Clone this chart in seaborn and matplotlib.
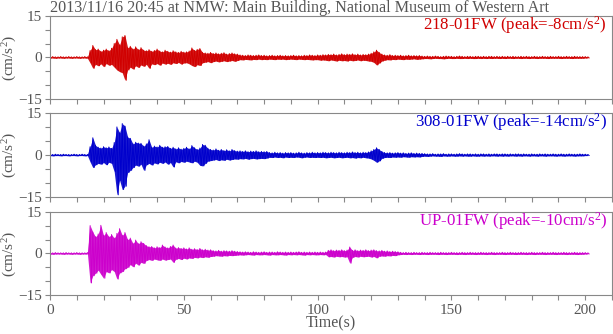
import numpy as np
import pandas as pd
import matplotlib
matplotlib.use("Agg")
import matplotlib.pyplot as plt
import seaborn as sns
from matplotlib.ticker import MultipleLocator

# ---------------- data (envelope peaks read per second, cm/s^2) ----------------
title = "2013/11/16 20:45 at NMW: Main Building, National Museum of Western Art"
channel_labels = ["218-01FW", "308-01FW", "UP-01FW"]
channel_peaks = [-8, -14, -10]
sample_interval = 1.0  # seconds between envelope readings

red_upper = [
    0.2, 0.3, 0.2, 0.2, 0.3, 0.2, 0.2, 0.3, 0.2, 0.2,
    0.3, 0.2, 0.2, 0.3, 0.2, 2.5, 4.3, 2.8, 3.0, 2.2,
    2.6, 3.0, 2.4, 3.3, 5.0, 6.5, 4.5, 7.4, 7.9, 3.5,
    4.0, 3.0, 3.8, 2.8, 3.5, 2.6, 2.4, 2.8, 2.2, 2.5,
    3.0, 2.3, 2.0, 2.6, 2.2, 1.9, 2.4, 2.0, 1.8, 2.2,
    1.9, 2.0, 2.3, 3.4, 2.5, 2.9, 3.2, 1.8, 1.6, 1.5,
    1.8, 1.4, 1.6, 1.3, 1.5, 1.7, 1.2, 1.4, 1.6, 1.3,
    1.2, 0.9, 0.8, 0.7, 0.9, 0.8, 0.7, 0.8, 0.9, 0.7,
    0.8, 0.6, 0.7, 0.8, 0.6, 0.7, 0.8, 0.6, 0.7, 0.6,
    0.7, 0.8, 0.6, 0.7, 0.6, 0.8, 0.7, 0.9, 0.8, 0.7,
    0.9, 0.8, 1.0, 0.9, 1.1, 1.0, 1.2, 0.9, 1.1, 1.3,
    1.0, 1.2, 1.1, 1.3, 1.0, 1.2, 0.9, 1.1, 1.0, 1.2,
    1.5, 2.0, 2.6, 1.8, 1.2, 0.9, 0.8, 1.0, 0.7, 0.8,
    0.7, 0.8, 0.6, 0.7, 0.8, 0.6, 0.7, 0.6, 0.7, 0.5,
    0.4, 0.5, 0.4, 0.4, 0.5, 0.4, 0.3, 0.4, 0.5, 0.4,
    0.4, 0.3, 0.4, 0.5, 0.4, 0.3, 0.4, 0.4, 0.3, 0.4,
    0.4, 0.3, 0.4, 0.3, 0.4, 0.4, 0.3, 0.4, 0.3, 0.4,
    0.3, 0.4, 0.3, 0.4, 0.3, 0.3, 0.4, 0.3, 0.4, 0.3,
    0.3, 0.4, 0.3, 0.3, 0.4, 0.3, 0.3, 0.4, 0.3, 0.3,
    0.4, 0.3, 0.3, 0.4, 0.3, 0.3, 0.4, 0.3, 0.3, 0.3,
    0.3, 0.2,
]
red_lower = [
    -0.2, -0.2, -0.3, -0.2, -0.2, -0.3, -0.2, -0.2, -0.3, -0.2,
    -0.2, -0.3, -0.2, -0.2, -0.3, -2.0, -3.9, -2.5, -3.0, -2.3,
    -3.3, -2.2, -2.8, -2.5, -3.5, -4.5, -5.1, -5.5, -8.2, -4.5,
    -3.5, -4.2, -3.0, -3.6, -2.7, -3.2, -2.5, -3.9, -2.3, -2.6,
    -2.2, -2.8, -2.0, -2.4, -2.1, -2.5, -1.9, -2.2, -1.8, -2.4,
    -2.0, -1.9, -2.3, -2.9, -3.3, -2.6, -2.9, -1.9, -1.7, -1.5,
    -1.9, -1.5, -1.3, -1.6, -1.4, -1.2, -1.5, -1.3, -1.1, -1.4,
    -1.1, -0.8, -0.9, -0.7, -0.8, -0.9, -0.7, -0.8, -0.6, -0.8,
    -0.7, -0.8, -0.6, -0.7, -0.8, -0.6, -0.7, -0.6, -0.8, -0.7,
    -0.6, -0.7, -0.8, -0.6, -0.7, -0.8, -0.7, -0.8, -0.9, -0.8,
    -0.8, -1.0, -0.9, -1.0, -1.2, -0.9, -1.1, -1.3, -1.0, -1.2,
    -1.1, -1.3, -1.0, -1.2, -1.1, -0.9, -1.2, -1.0, -1.1, -1.3,
    -1.4, -1.8, -2.7, -2.0, -1.3, -1.0, -0.8, -0.9, -0.7, -0.8,
    -0.6, -0.7, -0.8, -0.6, -0.7, -0.6, -0.5, -0.7, -0.6, -0.5,
    -0.4, -0.4, -0.5, -0.4, -0.3, -0.4, -0.4, -0.5, -0.4, -0.3,
    -0.4, -0.4, -0.3, -0.4, -0.4, -0.3, -0.4, -0.3, -0.4, -0.4,
    -0.3, -0.4, -0.3, -0.4, -0.3, -0.4, -0.3, -0.3, -0.4, -0.3,
    -0.4, -0.3, -0.3, -0.4, -0.3, -0.3, -0.4, -0.3, -0.3, -0.4,
    -0.3, -0.3, -0.4, -0.3, -0.3, -0.3, -0.4, -0.3, -0.3, -0.3,
    -0.3, -0.4, -0.3, -0.3, -0.3, -0.4, -0.3, -0.3, -0.3, -0.3,
    -0.2, -0.2,
]
blue_upper = [
    0.2, 0.2, 0.3, 0.2, 0.2, 0.3, 0.2, 0.2, 0.2, 0.3,
    0.2, 0.2, 0.3, 0.2, 0.2, 3.0, 6.2, 3.5, 2.8, 2.5,
    3.0, 2.6, 2.9, 2.4, 4.5, 10.1, 8.0, 11.3, 10.4, 6.5,
    6.0, 4.0, 4.6, 4.3, 4.2, 3.2, 4.0, 5.5, 2.8, 3.2,
    2.9, 3.5, 2.8, 3.0, 3.1, 2.4, 2.8, 2.2, 2.6, 2.1,
    2.4, 2.8, 2.2, 3.4, 2.6, 2.0, 2.5, 3.8, 3.5, 2.4,
    2.0, 1.8, 2.2, 1.7, 2.0, 1.6, 1.9, 1.5, 2.0, 1.6,
    1.4, 1.5, 1.3, 1.5, 1.2, 1.4, 1.3, 1.5, 1.2, 1.3,
    1.2, 1.3, 0.9, 0.8, 1.0, 0.8, 0.9, 0.7, 0.9, 0.8,
    0.9, 0.7, 0.8, 1.0, 0.8, 0.7, 0.9, 0.8, 1.0, 0.8,
    0.9, 0.8, 1.0, 0.9, 0.8, 1.0, 0.9, 0.8, 1.0, 0.9,
    0.8, 1.0, 0.9, 1.1, 0.9, 1.0, 0.8, 1.0, 0.9, 1.1,
    1.5, 2.0, 2.6, 2.0, 1.3, 0.9, 0.8, 0.9, 0.7, 0.8,
    0.9, 0.7, 0.8, 0.6, 0.7, 0.8, 0.6, 0.7, 0.6, 0.6,
    0.5, 0.4, 0.4, 0.5, 0.3, 0.4, 0.4, 0.5, 0.3, 0.4,
    0.4, 0.3, 0.4, 0.5, 0.4, 0.3, 0.4, 0.4, 0.3, 0.4,
    0.3, 0.4, 0.4, 0.3, 0.4, 0.3, 0.4, 0.4, 0.3, 0.4,
    0.4, 0.3, 0.4, 0.3, 0.4, 0.4, 0.3, 0.4, 0.3, 0.3,
    0.4, 0.3, 0.3, 0.4, 0.3, 0.4, 0.3, 0.3, 0.4, 0.3,
    0.3, 0.4, 0.3, 0.3, 0.4, 0.3, 0.3, 0.3, 0.4, 0.3,
    0.3, 0.2,
]
blue_lower = [
    -0.2, -0.3, -0.2, -0.2, -0.3, -0.2, -0.2, -0.3, -0.2, -0.2,
    -0.3, -0.2, -0.2, -0.3, -0.2, -2.5, -4.5, -3.5, -3.0, -3.3,
    -2.7, -3.5, -2.6, -3.0, -6.0, -14.3, -9.0, -12.4, -11.2, -6.3,
    -5.5, -4.5, -3.6, -4.0, -3.3, -5.5, -3.5, -3.0, -3.6, -2.8,
    -3.2, -2.6, -3.0, -2.5, -3.3, -2.7, -4.3, -2.4, -2.8, -2.3,
    -2.6, -2.2, -2.5, -2.8, -2.2, -2.6, -3.7, -3.9, -3.0, -2.2,
    -2.0, -1.8, -1.6, -2.0, -1.7, -1.9, -1.5, -1.8, -1.6, -1.4,
    -1.5, -1.3, -1.4, -1.2, -1.5, -1.3, -1.2, -1.4, -1.3, -1.2,
    -1.3, -1.1, -0.8, -0.9, -0.7, -0.9, -0.8, -1.0, -0.7, -0.9,
    -0.8, -0.9, -0.7, -0.8, -1.0, -0.8, -0.7, -0.9, -0.8, -0.9,
    -0.8, -0.9, -0.8, -1.0, -0.9, -0.8, -1.0, -0.9, -0.8, -1.0,
    -0.9, -0.8, -1.0, -0.9, -1.1, -0.9, -1.0, -0.8, -1.0, -1.1,
    -1.4, -1.9, -2.6, -2.1, -1.2, -0.9, -0.8, -0.9, -0.7, -0.8,
    -0.7, -0.8, -0.6, -0.7, -0.8, -0.6, -0.7, -0.6, -0.7, -0.5,
    -0.4, -0.5, -0.4, -0.3, -0.4, -0.4, -0.5, -0.3, -0.4, -0.4,
    -0.3, -0.4, -0.4, -0.3, -0.4, -0.3, -0.4, -0.4, -0.3, -0.4,
    -0.4, -0.3, -0.4, -0.3, -0.4, -0.3, -0.3, -0.4, -0.3, -0.4,
    -0.3, -0.4, -0.3, -0.3, -0.4, -0.3, -0.4, -0.3, -0.3, -0.4,
    -0.3, -0.3, -0.4, -0.3, -0.3, -0.4, -0.3, -0.3, -0.3, -0.4,
    -0.3, -0.3, -0.4, -0.3, -0.3, -0.3, -0.4, -0.3, -0.3, -0.3,
    -0.2, -0.2,
]
magenta_upper = [
    0.2, 0.2, 0.3, 0.2, 0.2, 0.2, 0.3, 0.2, 0.2, 0.2,
    0.3, 0.2, 0.2, 0.2, 0.3, 10.0, 7.7, 6.0, 7.0, 10.1,
    6.5, 7.5, 6.0, 6.8, 5.5, 7.2, 8.9, 6.5, 7.5, 5.0,
    5.5, 3.6, 4.8, 3.5, 4.2, 3.6, 2.8, 2.4, 2.5, 2.0,
    2.4, 2.1, 3.0, 2.3, 2.0, 2.5, 3.0, 1.9, 2.1, 1.8,
    2.0, 1.6, 2.0, 1.5, 1.7, 1.4, 1.8, 1.3, 1.5, 1.2,
    1.3, 1.0, 0.9, 1.1, 0.8, 1.0, 0.9, 0.8, 1.0, 0.8,
    0.7, 0.6, 0.5, 0.6, 0.5, 0.4, 0.6, 0.5, 0.4, 0.5,
    0.6, 0.4, 0.5, 0.5, 0.4, 0.6, 0.5, 0.4, 0.5, 0.4,
    0.5, 0.4, 0.5, 0.6, 0.4, 0.5, 0.4, 0.5, 0.4, 0.5,
    0.4, 0.5, 0.4, 0.5, 1.1, 1.3, 1.0, 1.2, 1.1, 1.3,
    1.0, 1.2, 2.3, 1.1, 1.3, 1.0, 1.2, 1.1, 1.3, 1.0,
    1.2, 1.3, 1.0, 0.9, 1.1, 0.8, 0.9, 0.7, 0.8, 0.7,
    0.6, 0.4, 0.3, 0.4, 0.3, 0.3, 0.4, 0.3, 0.3, 0.4,
    0.3, 0.3, 0.4, 0.3, 0.3, 0.3, 0.4, 0.3, 0.3, 0.3,
    0.4, 0.3, 0.3, 0.3, 0.4, 0.3, 0.3, 0.4, 0.3, 0.3,
    0.3, 0.4, 0.3, 0.3, 0.3, 0.4, 0.3, 0.3, 0.3, 0.4,
    0.3, 0.3, 0.4, 0.3, 0.3, 0.3, 0.4, 0.3, 0.3, 0.3,
    0.4, 0.3, 0.3, 0.3, 0.4, 0.3, 0.3, 0.3, 0.4, 0.3,
    0.3, 0.3, 0.4, 0.3, 0.3, 0.3, 0.4, 0.3, 0.3, 0.3,
    0.3, 0.2,
]
magenta_lower = [
    -0.2, -0.3, -0.2, -0.2, -0.2, -0.3, -0.2, -0.2, -0.3, -0.2,
    -0.2, -0.3, -0.2, -0.2, -0.2, -10.6, -8.0, -7.1, -6.0, -7.5,
    -8.9, -6.5, -7.0, -5.8, -6.5, -9.2, -7.0, -6.5, -5.5, -5.0,
    -4.0, -4.8, -3.5, -4.2, -3.2, -3.6, -2.5, -2.2, -2.5, -2.0,
    -2.3, -2.5, -2.0, -2.4, -2.2, -2.0, -3.2, -2.1, -1.8, -2.2,
    -1.7, -2.0, -1.6, -1.8, -1.4, -1.6, -1.3, -1.5, -1.2, -1.4,
    -1.1, -1.0, -0.8, -0.9, -1.0, -0.8, -0.9, -0.7, -0.8, -0.7,
    -0.6, -0.5, -0.6, -0.5, -0.4, -0.5, -0.6, -0.4, -0.5, -0.5,
    -0.4, -0.5, -0.6, -0.4, -0.5, -0.5, -0.4, -0.5, -0.6, -0.4,
    -0.5, -0.4, -0.5, -0.4, -0.5, -0.6, -0.4, -0.5, -0.4, -0.5,
    -0.5, -0.4, -0.5, -0.4, -1.2, -1.1, -1.3, -1.0, -1.2, -1.1,
    -1.3, -1.2, -3.5, -1.4, -1.1, -1.3, -1.0, -1.2, -1.1, -1.0,
    -1.3, -1.1, -1.6, -1.0, -0.9, -1.0, -0.8, -0.9, -0.7, -0.8,
    -0.5, -0.4, -0.3, -0.4, -0.3, -0.4, -0.3, -0.3, -0.4, -0.3,
    -0.3, -0.4, -0.3, -0.3, -0.3, -0.4, -0.3, -0.3, -0.4, -0.3,
    -0.3, -0.3, -0.4, -0.3, -0.3, -0.4, -0.3, -0.3, -0.3, -0.4,
    -0.3, -0.3, -0.3, -0.4, -0.3, -0.3, -0.4, -0.3, -0.3, -0.3,
    -0.4, -0.3, -0.3, -0.3, -0.4, -0.3, -0.3, -0.3, -0.4, -0.3,
    -0.3, -0.4, -0.3, -0.3, -0.3, -0.4, -0.3, -0.3, -0.3, -0.4,
    -0.3, -0.3, -0.3, -0.4, -0.3, -0.3, -0.3, -0.4, -0.3, -0.3,
    -0.2, -0.2,
]

xticks = [0, 50, 100, 150, 200]
yticks = [-15, 0, 15]
colors = ["#d00000", "#0000cc", "#cc00cc"]

# ---------------- style ----------------
sns.set_theme(style="white")
plt.rcParams["font.family"] = ["Liberation Serif", "DejaVu Serif"]
plt.rcParams["mathtext.fontset"] = "custom"
plt.rcParams["mathtext.rm"] = "Liberation Serif"
plt.rcParams["mathtext.it"] = "Liberation Serif:italic"
plt.rcParams["mathtext.default"] = "regular"

text_color = "#555555"
spine_color = "#888888"

fig = plt.figure(figsize=(6.13, 3.34), dpi=100)
W, H = 613.0, 334.0
left, right = 50 / W, 612 / W
panel_tops = [15.7, 113.3, 211.7]
panel_h = 83.5

traces = [(red_upper, red_lower), (blue_upper, blue_lower), (magenta_upper, magenta_lower)]

for i, ((up, lo), c, lab, pk) in enumerate(zip(traces, colors, channel_labels, channel_peaks)):
    top = panel_tops[i]
    ax = fig.add_axes([left, 1 - (top + panel_h) / H, right - left, panel_h / H])
    up = np.asarray(up, float)
    lo = np.asarray(lo, float)
    t = np.arange(len(up)) * sample_interval
    tx = np.column_stack([t, t + sample_interval / 2]).ravel()
    vy = np.column_stack([up, lo]).ravel()
    df = pd.DataFrame({"time": tx, "acc": vy})
    # dense band of the record between its read peak envelopes
    ax.fill_between(t, lo, up, color=c, lw=0, alpha=0.9)
    sns.lineplot(data=df, x="time", y="acc", ax=ax, color=c, lw=0.7,
                 estimator=None, sort=False)
    ax.set_xlim(0, 210)
    ax.set_ylim(-15, 15)
    ax.set_xticks(xticks)
    ax.set_yticks(yticks)
    ax.xaxis.set_minor_locator(MultipleLocator(10))
    ax.yaxis.set_minor_locator(MultipleLocator(5))
    ax.tick_params(axis="both", which="both", direction="out", length=3.5,
                   width=0.8, color=spine_color, labelcolor=text_color,
                   labelsize=11, bottom=True, left=True, top=False, right=False)
    ax.tick_params(axis="x", pad=3)
    ax.tick_params(axis="y", pad=2)
    for sp in ax.spines.values():
        sp.set_color(spine_color)
        sp.set_linewidth(0.8)
    ax.set_ylabel("(cm/s$^{2}$)", color=text_color, fontsize=11)
    ax.yaxis.set_label_coords(-0.056, 0.5)
    if i < 2:
        ax.set_xticklabels([])
        ax.set_xlabel("")
    else:
        ax.set_xlabel("Time(s)", color=text_color, fontsize=11.5, labelpad=-1)
    ax.text(0.991, 0.834, f"{lab} (peak={pk}cm/s$^{{2}}$)", transform=ax.transAxes,
            ha="right", va="baseline", color=c, fontsize=12.2)

fig.text(50 / W, 1 - 11.5 / H, title, ha="left", va="baseline",
         color=text_color, fontsize=11.6)

fig.savefig("out.png", dpi=100)
